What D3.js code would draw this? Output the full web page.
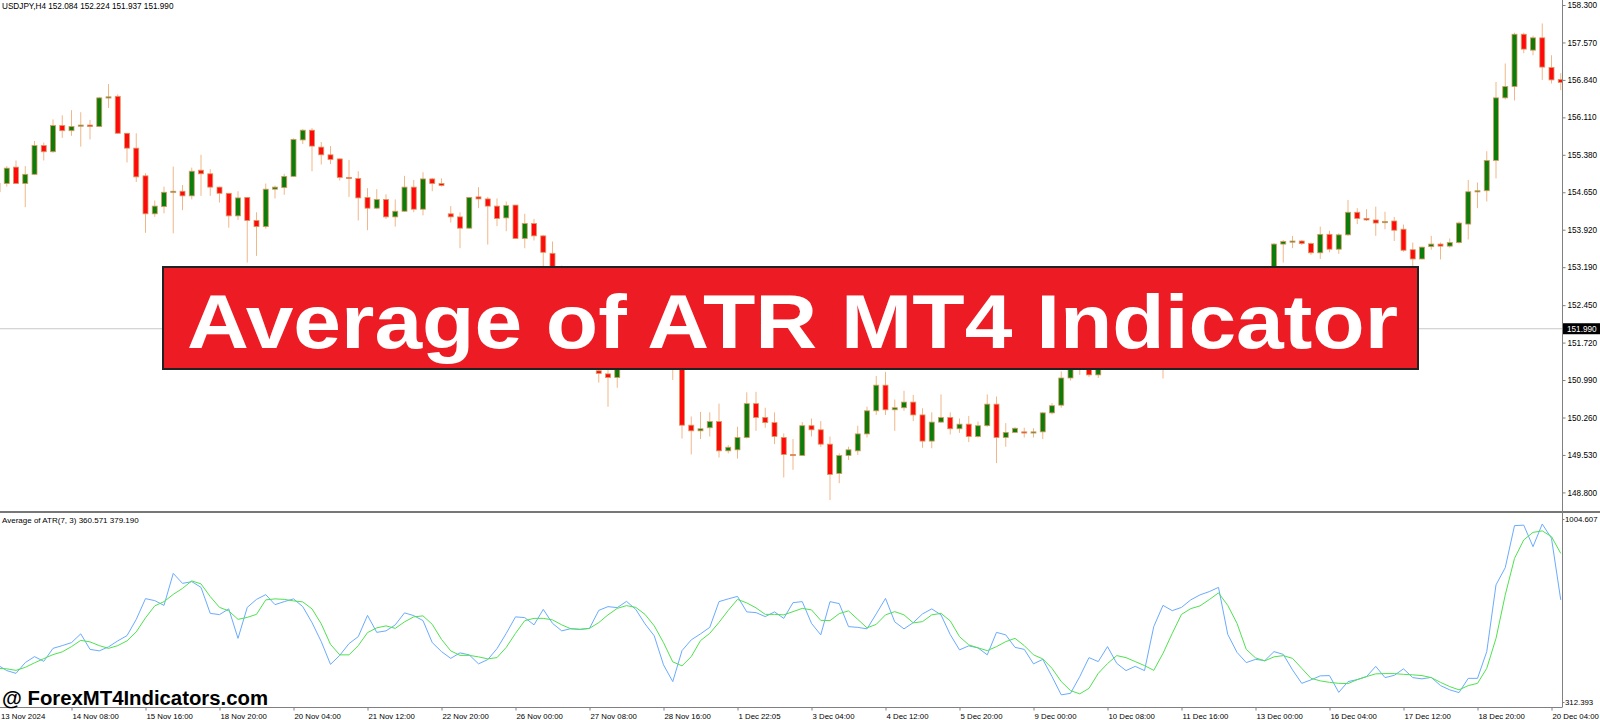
<!DOCTYPE html>
<html>
<head>
<meta charset="utf-8">
<script src="https://cdn.jsdelivr.net/npm/d3@7"></script>
<style>
  html, body { margin: 0; padding: 0; background: #fff; }
  svg { display: block; font-family: "Liberation Sans", Arial, sans-serif; }
</style>
</head>
<body>
<div id="chart"></div>
<script>
// USDJPY H4 candles
var openP = [154.66,154.82,155.14,154.82,155.00,155.56,155.44,155.95,155.85,155.95,
  155.96,155.93,156.50,156.52,155.80,155.51,154.97,154.23,154.37,154.65,
  154.67,154.58,155.08,155.01,154.75,154.63,154.19,154.55,154.10,153.98,
  154.71,154.74,154.96,155.67,155.86,155.53,155.38,155.30,154.94,154.92,
  154.55,154.34,154.51,154.17,154.28,154.75,154.32,154.91,154.82,154.23,
  154.17,153.95,154.56,154.52,154.38,154.15,154.40,153.75,154.04,153.80,
  153.46,152.95,152.40,152.05,151.70,151.17,151.11,151.04,151.30,151.60,
  151.80,151.60,151.50,151.45,151.35,150.11,150.00,150.06,150.18,149.61,
  149.63,149.87,150.53,150.26,150.16,149.87,149.54,149.52,150.10,150.02,
  149.74,149.17,149.52,149.61,149.94,150.39,150.89,150.41,150.45,150.56,
  150.31,149.80,150.17,150.26,150.04,150.13,149.89,150.10,150.52,149.87,
  149.97,149.98,149.96,149.98,150.35,150.50,151.03,151.35,151.30,151.09,
  151.45,151.85,151.65,152.10,152.00,151.80,151.40,151.75,152.35,152.15,
  152.75,152.55,152.85,152.45,152.30,152.45,152.65,152.80,152.95,153.64,
  153.69,153.70,153.65,153.47,153.83,153.54,153.82,154.26,154.14,154.11,
  154.06,154.09,153.93,153.53,153.35,153.59,153.64,153.60,153.67,154.03,
  154.66,154.68,155.27,156.49,156.71,157.73,157.42,157.66,157.08,156.85];

var highP = [154.86,155.16,155.27,155.16,155.65,155.62,156.07,156.15,156.25,156.21,
  156.06,156.51,156.76,156.56,155.80,155.80,155.02,154.49,154.76,155.15,
  154.79,155.13,155.38,155.10,154.76,154.63,154.67,154.56,154.26,154.82,
  154.78,155.01,155.70,155.88,155.90,155.63,155.55,155.31,155.28,155.06,
  154.73,154.71,154.61,154.51,154.97,154.89,155.04,154.93,154.92,154.38,
  154.26,154.56,154.75,154.56,154.53,154.47,154.40,154.23,154.13,153.82,
  153.69,153.22,152.60,152.20,151.85,151.40,151.30,151.45,151.70,151.95,
  152.05,151.85,151.75,151.70,151.45,150.28,150.37,150.36,150.53,149.72,
  150.08,150.75,150.76,150.45,150.36,149.95,149.84,150.17,150.24,150.19,
  149.89,149.56,149.69,150.10,150.47,151.07,151.15,150.61,150.78,150.70,
  150.44,150.36,150.71,150.36,150.24,150.29,150.18,150.71,150.67,150.15,
  150.07,150.06,150.05,150.37,150.54,151.16,151.50,151.55,151.45,151.60,
  151.95,152.10,152.20,152.40,152.30,152.05,151.85,152.45,152.70,152.85,
  153.10,152.95,153.15,152.70,152.55,152.75,152.95,153.05,153.66,153.72,
  153.80,153.72,153.67,153.98,153.90,153.85,154.50,154.34,154.32,154.37,
  154.27,154.17,154.02,153.67,153.59,153.80,153.67,153.75,154.08,154.89,
  154.84,155.45,156.80,157.16,157.76,157.76,157.70,157.94,157.32,156.97];

var lowP = [154.64,154.76,154.81,154.36,154.99,155.27,155.42,155.71,155.75,155.54,
  155.68,155.92,156.29,155.79,155.23,154.85,153.86,154.17,154.24,153.85,
  154.30,154.51,154.58,154.58,154.45,153.96,154.11,153.28,153.41,153.94,
  154.53,154.60,154.95,155.59,155.06,155.19,155.20,154.88,154.56,154.10,
  153.91,154.32,154.13,153.98,154.27,154.26,154.20,154.67,154.76,154.06,
  153.56,153.94,154.34,153.63,153.99,153.89,153.74,153.56,153.71,153.20,
  152.85,152.30,151.90,151.60,151.30,150.94,150.47,150.84,151.22,151.45,
  151.50,151.35,151.30,150.99,149.85,149.54,149.84,149.89,149.48,149.56,
  149.46,149.85,150.00,150.06,149.74,149.09,149.24,149.51,149.89,149.69,
  148.65,148.98,149.43,149.53,149.87,150.31,150.31,150.00,150.39,150.19,
  149.67,149.66,150.16,149.93,149.96,149.78,149.87,150.08,149.37,149.69,
  149.96,149.87,149.87,149.84,150.32,150.45,150.98,151.09,151.05,151.03,
  151.40,151.55,151.60,151.90,151.70,151.30,151.02,151.65,152.05,152.10,
  152.40,152.20,152.30,152.15,152.10,152.35,152.50,152.70,152.85,153.28,
  153.56,153.62,153.43,153.35,153.48,153.45,153.80,154.03,154.09,153.80,
  153.93,153.70,153.49,153.19,153.34,153.53,153.34,153.57,153.65,153.73,
  154.34,154.47,154.92,156.46,156.44,157.36,157.32,156.84,156.77,156.64];

var closeP = [154.82,155.12,154.82,155.00,155.56,155.44,155.95,155.85,155.93,155.96,
  155.93,156.49,156.51,155.80,155.51,154.95,154.23,154.38,154.65,154.67,
  154.58,155.06,155.01,154.75,154.63,154.19,154.54,154.10,153.98,154.71,
  154.75,154.96,155.68,155.86,155.55,155.38,155.29,154.94,154.93,154.54,
  154.34,154.51,154.17,154.28,154.75,154.32,154.91,154.82,154.78,154.17,
  153.95,154.55,154.52,154.38,154.14,154.39,153.75,154.04,153.80,153.48,
  152.95,152.40,152.05,151.70,151.45,151.12,151.04,151.30,151.60,151.80,
  151.60,151.50,151.45,151.35,150.11,150.00,150.04,150.18,149.61,149.68,
  149.87,150.53,150.26,150.16,149.89,149.54,149.52,150.10,150.02,149.74,
  149.15,149.52,149.63,149.94,150.39,150.89,150.41,150.45,150.56,150.31,
  149.80,150.17,150.26,150.04,150.13,149.89,150.10,150.52,149.87,149.97,
  150.05,149.97,149.98,150.35,150.49,151.03,151.35,151.30,151.09,151.45,
  151.85,151.65,152.10,152.00,151.80,151.40,151.75,152.35,152.15,152.75,
  152.55,152.85,152.45,152.30,152.45,152.65,152.80,152.95,153.64,153.69,
  153.70,153.65,153.47,153.83,153.54,153.82,154.26,154.14,154.11,154.05,
  154.08,153.91,153.52,153.35,153.58,153.64,153.60,153.67,154.05,154.66,
  154.68,155.27,156.49,156.71,157.73,157.44,157.66,157.09,156.84,156.79];

// Average of ATR(7, 3) sub-window, values in points
var atrLine = [441,418,407,450,474,455,507,518,530,565,
  503,497,513,537,558,623,706,698,679,807,
  767,774,751,647,642,665,547,671,703,722,
  682,694,705,674,610,534,443,479,526,554,
  639,571,577,601,649,638,618,530,494,467,
  489,481,445,462,506,567,633,630,601,663,
  607,577,586,583,587,659,674,670,695,663,
  605,557,441,374,498,541,565,591,694,705,
  715,653,650,634,653,627,690,694,607,561,
  694,686,594,591,585,645,707,613,585,610,
  645,665,641,562,501,517,509,481,571,561,
  511,503,445,463,394,321,327,394,470,454,
  514,447,418,435,418,594,679,658,671,701,
  721,734,751,563,491,450,463,458,494,483,
  421,367,381,397,398,331,374,382,394,435,
  390,399,425,390,385,391,358,341,330,387,
  387,494,761,830,998,1000,914,1004.607,947,701];

var atrAvg = [427,425,419,431,449,466,482,493,514,539,
  533,518,507,518,537,573,629,677,694,723,
  747,777,765,714,671,657,623,631,643,701,
  705,703,697,693,665,605,523,481,481,518,
  570,589,597,587,613,633,637,603,543,497,
  479,479,473,465,470,511,567,618,627,627,
  621,601,585,583,587,610,641,667,678,671,
  643,597,530,453,437,474,538,567,611,659,
  703,689,669,643,643,641,654,667,661,619,
  618,646,657,623,589,603,641,654,641,609,
  614,641,647,617,554,521,509,498,514,534,
  547,518,481,465,427,374,338,325,347,407,
  446,478,470,454,438,419,487,567,643,666,
  677,702,729,679,607,503,469,457,473,478,
  467,427,387,377,371,367,366,382,394,405,
  406,406,403,401,398,390,371,354,341,358,
  367,427,547,721,867,941,971,977,954,887];

var timeLabels = ["13 Nov 2024","14 Nov 08:00","15 Nov 16:00","18 Nov 20:00","20 Nov 04:00",
  "21 Nov 12:00","22 Nov 20:00","26 Nov 00:00","27 Nov 08:00","28 Nov 16:00","1 Dec 22:05",
  "3 Dec 04:00","4 Dec 12:00","5 Dec 20:00","9 Dec 00:00","10 Dec 08:00","11 Dec 16:00",
  "13 Dec 00:00","16 Dec 04:00","17 Dec 12:00","18 Dec 20:00","20 Dec 04:00"];

var priceTicks = [158.300,157.570,156.840,156.110,155.380,154.650,153.920,153.190,
  152.450,151.720,150.990,150.260,149.530,148.800];
var atrTicks = [1004.607, 312.393];

var bidPrice = 151.990;
var headerText = "USDJPY,H4  152.084 152.224 151.937 151.990";
var atrHeader = "Average of ATR(7, 3) 360.571 379.190";
var bannerTitle = "Average of ATR MT4 Indicator";
var siteMark = "@ ForexMT4Indicators.com";

var width = 1600,
    height = 720,
    plotRight = 1562,
    mainBottom = 511,
    subTop = 514,
    subBottom = 707,
    barStep = 9.25,
    bodyW = 5;

var svg = d3.select("#chart").append("svg")
    .attr("width", width)
    .attr("height", height);

var n = openP.length;
var bars = openP.map(function(o, i) {
  return {i: i, o: o, h: highP[i], l: lowP[i], c: closeP[i]};
});

var x = d3.scaleLinear()
    .domain([0, n - 1])
    .range([-2.5, -2.5 + barStep * (n - 1)]);

var y = d3.scaleLinear()
    .domain([148.8, 158.3])
    .range([492.4, 5]);

var ya = d3.scaleLinear()
    .domain([312.393, 1004.607])
    .range([697, 524]);

// axis labels of the sub-window sit on the pane edges
var yaLabels = d3.scaleLinear()
    .domain(ya.domain())
    .range([702, 519]);

var defs = svg.append("defs");
defs.append("clipPath").attr("id", "mainClip")
  .append("rect").attr("x", 0).attr("y", 0).attr("width", plotRight).attr("height", mainBottom);
defs.append("clipPath").attr("id", "subClip")
  .append("rect").attr("x", 0).attr("y", subTop).attr("width", plotRight).attr("height", subBottom - subTop);

// bid line
svg.append("line")
    .attr("x1", 0).attr("x2", plotRight)
    .attr("y1", y(bidPrice)).attr("y2", y(bidPrice))
    .attr("stroke", "#c8c8c8")
    .attr("stroke-width", 1);

var main = svg.append("g").attr("clip-path", "url(#mainClip)");

var candle = main.selectAll("g.candle")
    .data(bars)
  .enter().append("g")
    .attr("class", "candle");

candle.append("line")
    .attr("x1", function(d) { return x(d.i); })
    .attr("x2", function(d) { return x(d.i); })
    .attr("y1", function(d) { return y(d.h); })
    .attr("y2", function(d) { return y(d.l); })
    .attr("stroke", "#efa56c")
    .attr("stroke-opacity", 0.8)
    .attr("stroke-width", 1);

candle.append("rect")
    .attr("x", function(d) { return x(d.i) - bodyW / 2; })
    .attr("y", function(d) { return y(Math.max(d.o, d.c)); })
    .attr("width", bodyW)
    .attr("height", function(d) { return Math.max(1.2, Math.abs(y(d.o) - y(d.c))); })
    .attr("fill", function(d) { return d.c >= d.o ? "#0a7d0a" : "#ff0a0a"; })
    .attr("stroke", "#d99a62")
    .attr("stroke-width", 0.8);

// header
svg.append("text")
    .attr("x", 2).attr("y", 9)
    .attr("font-size", "8.2px")
    .attr("fill", "#000")
    .text(headerText);

// pane separator
svg.append("rect")
    .attr("x", 0).attr("y", mainBottom)
    .attr("width", width).attr("height", 2)
    .attr("fill", "#777");

// sub window lines
var sub = svg.append("g").attr("clip-path", "url(#subClip)");

var line = function(arr) {
  return d3.line()
    .x(function(d, i) { return x(i); })
    .y(function(d) { return ya(d); })(arr);
};

sub.append("path")
    .attr("d", line(atrLine))
    .attr("fill", "none")
    .attr("stroke", "#6aabff")
    .attr("stroke-width", 1);

sub.append("path")
    .attr("d", line(atrAvg))
    .attr("fill", "none")
    .attr("stroke", "#4fe24f")
    .attr("stroke-width", 1);

svg.append("text")
    .attr("x", 2).attr("y", 523)
    .attr("font-size", "8px")
    .attr("fill", "#000")
    .text(atrHeader);

// frame lines
svg.append("line")
    .attr("x1", plotRight + 0.5).attr("x2", plotRight + 0.5)
    .attr("y1", 0).attr("y2", subBottom)
    .attr("stroke", "#808080");
svg.append("line")
    .attr("x1", 0).attr("x2", plotRight + 0.5)
    .attr("y1", subBottom + 0.5).attr("y2", subBottom + 0.5)
    .attr("stroke", "#808080");

// price axis
var priceAxis = d3.axisRight(y)
    .tickValues(priceTicks)
    .tickFormat(d3.format(".3f"))
    .tickSize(3)
    .tickPadding(2);

var gp = svg.append("g")
    .attr("transform", "translate(" + (plotRight + 0.5) + ",0)")
    .call(priceAxis);

var atrAxis = d3.axisRight(yaLabels)
    .tickValues(atrTicks)
    .tickFormat(d3.format(".3f"))
    .tickSize(2)
    .tickPadding(0.5);

var ga = svg.append("g")
    .attr("transform", "translate(" + (plotRight + 0.5) + ",0)")
    .call(atrAxis);

var timeAxis = d3.axisBottom(x)
    .tickValues(d3.range(0, n, 8))
    .tickFormat(function(d, i) { return timeLabels[i]; })
    .tickSize(3)
    .tickPadding(3);

var gt = svg.append("g")
    .attr("transform", "translate(0," + (subBottom + 0.5) + ")")
    .call(timeAxis);

[gp, ga, gt].forEach(function(g) {
  g.select(".domain").remove();
  g.attr("font-family", null).attr("font-size", null);
  g.selectAll(".tick line").attr("stroke", "#808080");
  g.selectAll(".tick text").attr("fill", "#000").attr("font-size", "8.2px");
});

ga.selectAll(".tick text").attr("font-size", "7.8px");

gt.selectAll(".tick text")
    .attr("font-size", "7.8px")
    .attr("text-anchor", "start")
    .attr("x", function(d, i) { return i === 0 ? 3 : 0.5; });

// bid price box
var bidG = svg.append("g")
    .attr("transform", "translate(" + (plotRight + 1) + "," + y(bidPrice) + ")");
bidG.append("rect")
    .attr("x", 0).attr("y", -5.5)
    .attr("width", width - plotRight - 1).attr("height", 11)
    .attr("fill", "#000");
bidG.append("text")
    .attr("x", 4).attr("y", 3)
    .attr("font-size", "8.2px")
    .attr("fill", "#fff")
    .text(d3.format(".3f")(bidPrice));

// title banner
svg.append("rect")
    .attr("x", 163).attr("y", 267)
    .attr("width", 1255).attr("height", 102)
    .attr("fill", "#ed1c24")
    .attr("stroke", "#222")
    .attr("stroke-width", 2);

svg.append("text")
    .attr("x", 187).attr("y", 348)
    .attr("font-size", "76px")
    .attr("font-weight", "bold")
    .attr("fill", "#fff")
    .attr("textLength", 1211)
    .attr("lengthAdjust", "spacingAndGlyphs")
    .text(bannerTitle);

// site mark
svg.append("text")
    .attr("x", 2).attr("y", 705)
    .attr("font-size", "20px")
    .attr("font-weight", "bold")
    .attr("fill", "#000")
    .attr("textLength", 266)
    .attr("lengthAdjust", "spacingAndGlyphs")
    .text(siteMark);
</script>
</body>
</html>
